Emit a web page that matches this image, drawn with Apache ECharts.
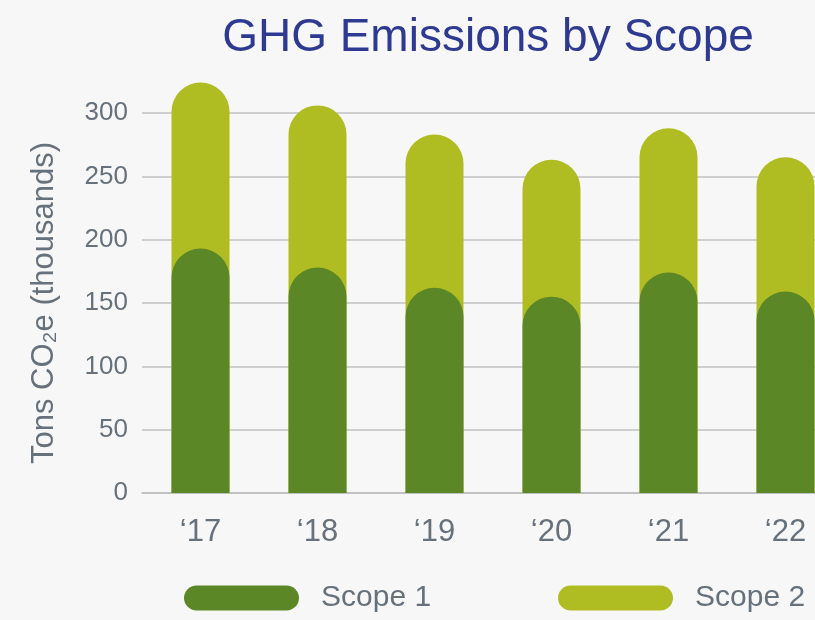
<!DOCTYPE html>
<html>
<head>
<meta charset="utf-8">
<script src="https://cdn.jsdelivr.net/npm/echarts@6/dist/echarts.min.js"></script>
<style>
html,body{margin:0;padding:0;background:#f7f7f7;}
#chart{width:815px;height:620px;}
</style>
</head>
<body>
<div id="chart"></div>
<script>
const categories = ['\u201817', '\u201818', '\u201819', '\u201820', '\u201821', '\u201822'];
const scope1 = [193, 178, 162, 155, 174, 159];
const scope2 = [131, 128, 121, 108, 114, 106];
const yTicks = [0, 50, 100, 150, 200, 250, 300];

const totals = scope1.map((v, i) => v + scope2[i]);
const FONT = '"Liberation Sans", Arial, Helvetica, sans-serif';
const C1 = '#5c8727';
const C2 = '#afbd22';
const TXT = '#66717c';
const capsule = 'path://M12.5,0 L102.5,0 A12.5,12.5 0 0 1 102.5,25 L12.5,25 A12.5,12.5 0 0 1 12.5,0 Z';

const chart = echarts.init(document.getElementById('chart'), null, {renderer: 'canvas'});
chart.setOption({
  backgroundColor: '#f7f7f7',
  animation: false,
  title: {
    text: 'GHG Emissions by Scope',
    left: 483, top: 10, textAlign: 'center',
    textStyle: {fontFamily: FONT, fontSize: 46, fontWeight: 'normal', color: '#2e3a92'}
  },
  legend: [
    {
      data: ['Scope 1'], left: 179, top: 578,
      itemWidth: 115, itemHeight: 25, icon: capsule,
      textStyle: {fontFamily: FONT, fontSize: 30, color: TXT, padding: [0, 0, 0, 17]}
    },
    {
      data: ['Scope 2'], left: 553, top: 578,
      itemWidth: 115, itemHeight: 25, icon: capsule,
      textStyle: {fontFamily: FONT, fontSize: 30, color: TXT, padding: [0, 0, 0, 17]}
    }
  ],
  grid: {left: 142, width: 702, top: 113, bottom: 127, containLabel: false, outerBoundsMode: 'none'},
  xAxis: {
    type: 'category',
    data: categories,
    axisLine: {show: true, lineStyle: {color: '#bdbdbd', width: 1.5}},
    axisTick: {show: false},
    axisLabel: {fontFamily: FONT, fontSize: 31, color: TXT, margin: 24}
  },
  yAxis: {
    type: 'value',
    min: 0, max: 300, interval: 50,
    name: 'Tons CO\u2082e (thousands)',
    nameLocation: 'middle',
    nameRotate: 90,
    nameGap: 82,
    nameTextStyle: {fontFamily: FONT, fontSize: 31, color: TXT},
    axisLine: {show: false},
    axisTick: {show: false},
    splitLine: {lineStyle: {color: '#c2c2c2', width: 1.5}},
    axisLabel: {
      fontFamily: FONT, fontSize: 26, color: TXT, margin: 14,
      formatter: v => yTicks.includes(v) ? String(v) : ''
    }
  },
  series: [
    {
      name: 'Scope 2',
      type: 'bar',
      data: totals,
      barWidth: 58,
      barGap: '-100%',
      clip: false,
      z: 2,
      itemStyle: {color: C2, borderRadius: [29, 29, 0, 0]}
    },
    {
      name: 'Scope 1',
      type: 'bar',
      data: scope1,
      barWidth: 58,
      barGap: '-100%',
      clip: false,
      z: 3,
      itemStyle: {color: C1, borderRadius: [29, 29, 0, 0]}
    }
  ]
});
</script>
</body>
</html>
